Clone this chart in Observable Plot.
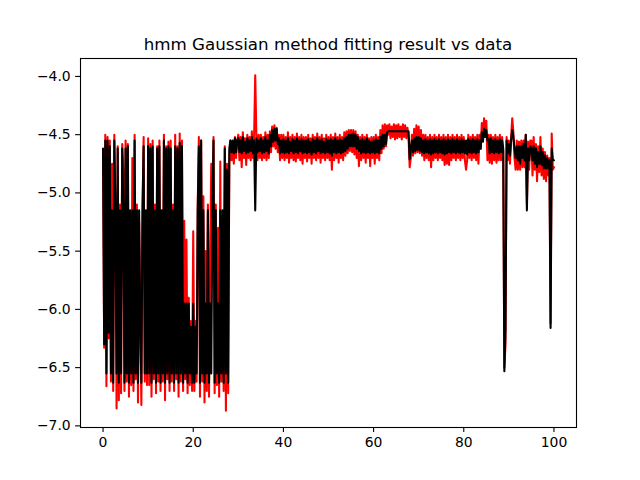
<!DOCTYPE html>
<html><head><meta charset="utf-8">
<script src="https://cdn.jsdelivr.net/npm/d3@7"></script>
<script src="https://cdn.jsdelivr.net/npm/@observablehq/plot@0.6"></script>
<style>
body{margin:0;background:#fff;font-family:"DejaVu Sans",sans-serif;}
#title{height:56px;width:640px;position:relative}
#title span{position:absolute;left:328px;transform:translateX(-50%);top:34px;font-size:16.7px;white-space:nowrap;color:#000}
</style></head><body>
<div id="title"><span>hmm Gaussian method fitting result vs data</span></div>
<div id="chart"></div>
<script>
const titleText = "hmm Gaussian method fitting result vs data";
const tStart = 0, tStep = 0.25;
const xTicks = [0, 20, 40, 60, 80, 100];
const yTicks = [-7.0, -6.5, -6.0, -5.5, -5.0, -4.5, -4.0];
const dataRed = [
-4.68,-6.33,-4.5,-6.66,-4.52,-6.25,-4.55,-6.62,-4.75,-6.7,-4.5,-5.2,-6.85,-4.6,-6.78,-5.1,-6.72,-4.58,-4.8,-6.7,
-4.55,-6.62,-4.58,-6.75,-5.2,-6.65,-4.7,-6.7,-4.5,-6.6,-5.1,-6.8,-5.25,-6.05,-6.82,-5.2,-4.52,-6.62,-5.2,-6.65,
-4.53,-6.65,-4.58,-6.75,-4.55,-6.6,-5.1,-6.72,-4.6,-6.62,-4.55,-6.7,-5.2,-6.62,-4.5,-6.78,-4.6,-6.6,-4.56,-6.7,
-4.55,-6.62,-5.1,-6.7,-4.5,-6.6,-4.6,-6.75,-4.49,-6.62,-4.55,-6.7,-5.24,-6.6,-5.4,-6.72,-5.9,-6.65,-6.1,-6.7,
-5.33,-6.7,-6.1,-6.62,-5.1,-4.52,-6.75,-4.55,-6.62,-5.03,-6.8,-5.5,-6.7,-5.1,-6.75,-5.6,-4.75,-5.2,-4.52,-6.72,
-5.1,-6.65,-5.3,-6.75,-4.73,-6.62,-5.2,-6.7,-4.6,-6.87,-4.75,-6.72,-4.75,-4.55,-4.72,-4.58,-4.75,-4.52,-4.7,-4.55,
-4.5,-4.72,-4.52,-4.78,-4.48,-4.7,-4.53,-4.76,-4.5,-4.7,-4.52,-4.72,-4.47,-4.7,-4.52,-3.99,-4.5,-4.72,-4.5,-4.7,
-4.5,-4.72,-4.52,-4.7,-4.48,-4.72,-4.5,-4.7,-4.47,-4.65,-4.43,-4.6,-4.42,-4.62,-4.44,-4.65,-4.5,-4.72,-4.5,-4.7,
-4.5,-4.72,-4.52,-4.7,-4.48,-4.74,-4.52,-4.7,-4.5,-4.72,-4.52,-4.73,-4.49,-4.7,-4.52,-4.72,-4.5,-4.75,-4.52,-4.7,
-4.52,-4.73,-4.5,-4.7,-4.53,-4.75,-4.5,-4.7,-4.52,-4.72,-4.49,-4.7,-4.52,-4.74,-4.5,-4.7,-4.53,-4.72,-4.5,-4.7,
-4.52,-4.72,-4.5,-4.8,-4.52,-4.72,-4.49,-4.7,-4.52,-4.74,-4.5,-4.7,-4.52,-4.72,-4.48,-4.68,-4.47,-4.66,-4.46,-4.64,
-4.46,-4.65,-4.46,-4.67,-4.47,-4.7,-4.5,-4.77,-4.52,-4.72,-4.5,-4.7,-4.52,-4.74,-4.5,-4.7,-4.53,-4.77,-4.52,-4.7,
-4.52,-4.75,-4.5,-4.7,-4.52,-4.72,-4.46,-4.66,-4.42,-4.62,-4.41,-4.6,-4.42,-4.5,-4.41,-4.53,-4.43,-4.52,-4.41,-4.54,
-4.42,-4.53,-4.41,-4.52,-4.43,-4.54,-4.41,-4.52,-4.42,-4.53,-4.44,-4.52,-4.78,-4.7,-4.5,-4.68,-4.45,-4.66,-4.42,-4.65,
-4.43,-4.66,-4.46,-4.68,-4.5,-4.72,-4.5,-4.7,-4.52,-4.72,-4.5,-4.78,-4.52,-4.72,-4.5,-4.7,-4.52,-4.72,-4.5,-4.7,
-4.52,-4.72,-4.5,-4.76,-4.52,-4.75,-4.5,-4.76,-4.52,-4.72,-4.5,-4.7,-4.52,-4.72,-4.5,-4.7,-4.52,-4.72,-4.5,-4.7,
-4.52,-4.72,-4.8,-4.72,-4.5,-4.7,-4.52,-4.72,-4.5,-4.7,-4.52,-4.72,-4.5,-4.75,-4.5,-4.62,-4.4,-4.5,-4.36,-4.48,
-4.38,-4.72,-4.5,-4.74,-4.5,-4.75,-4.52,-4.72,-4.5,-4.74,-4.52,-4.72,-4.5,-4.72,-4.52,-4.65,-6.5,-6.3,-4.52,-4.72,
-4.55,-4.75,-4.52,-4.36,-4.48,-4.7,-4.8,-4.55,-4.8,-4.56,-4.8,-4.55,-4.78,-4.55,-4.78,-4.5,-5.1,-4.56,-4.8,-4.55,
-4.55,-4.85,-4.52,-4.8,-4.58,-4.9,-4.6,-4.82,-4.52,-4.85,-4.62,-4.88,-4.65,-4.9,-4.68,-4.85,-4.7,-6.12,-4.49,-4.8,
-4.78
];
const fitBlack = [
-4.62,-6.3,-4.55,-6.55,-4.55,-6.2,-4.6,-6.55,-5.15,-6.63,-4.55,-5.15,-6.55,-4.62,-6.63,-5.15,-6.55,-4.62,-5.15,-6.63,
-4.62,-6.55,-4.6,-6.63,-5.15,-6.55,-5.15,-6.63,-4.55,-6.55,-5.15,-6.63,-5.15,-6.15,-6.63,-5.15,-4.6,-6.55,-5.15,-6.55,
-4.6,-6.55,-4.62,-6.63,-4.6,-6.55,-5.15,-6.63,-4.62,-6.55,-4.6,-6.63,-5.15,-6.55,-4.55,-6.63,-4.62,-6.55,-4.6,-6.63,
-4.62,-6.55,-5.15,-6.63,-4.6,-6.55,-4.62,-6.63,-4.57,-6.55,-4.6,-6.63,-5.95,-6.55,-5.95,-6.63,-5.95,-6.55,-6.15,-6.63,
-5.95,-6.63,-6.15,-6.55,-5.15,-4.6,-6.63,-4.55,-6.55,-5.15,-6.63,-5.95,-6.55,-5.15,-6.63,-5.95,-6.55,-5.15,-4.55,-6.63,
-5.15,-6.55,-5.95,-6.63,-5.15,-6.55,-5.15,-6.63,-4.62,-6.55,-4.8,-6.63,-4.62,-4.55,-4.65,-4.55,-4.66,-4.53,-4.65,-4.55,
-4.53,-4.65,-4.55,-4.66,-4.52,-4.64,-4.56,-4.66,-4.53,-4.65,-4.55,-4.64,-4.52,-4.66,-4.55,-5.15,-4.53,-4.65,-4.55,-4.64,
-4.53,-4.66,-4.55,-4.65,-4.52,-4.64,-4.55,-4.66,-4.5,-4.6,-4.46,-4.56,-4.45,-4.55,-4.45,-4.58,-4.53,-4.66,-4.55,-4.65,
-4.54,-4.66,-4.55,-4.65,-4.53,-4.66,-4.56,-4.64,-4.54,-4.66,-4.55,-4.65,-4.53,-4.66,-4.55,-4.64,-4.54,-4.66,-4.55,-4.65,
-4.55,-4.66,-4.54,-4.65,-4.56,-4.67,-4.54,-4.65,-4.55,-4.66,-4.53,-4.64,-4.55,-4.66,-4.54,-4.65,-4.56,-4.66,-4.54,-4.65,
-4.55,-4.66,-4.54,-4.68,-4.55,-4.65,-4.53,-4.66,-4.55,-4.65,-4.54,-4.66,-4.55,-4.65,-4.53,-4.64,-4.52,-4.62,-4.5,-4.6,
-4.5,-4.6,-4.49,-4.6,-4.5,-4.62,-4.52,-4.64,-4.55,-4.66,-4.54,-4.65,-4.55,-4.66,-4.53,-4.65,-4.55,-4.66,-4.56,-4.65,
-4.55,-4.66,-4.54,-4.65,-4.55,-4.66,-4.52,-4.62,-4.5,-4.6,-4.5,-4.58,-4.48,-4.47,-4.47,-4.47,-4.47,-4.47,-4.47,-4.47,
-4.47,-4.47,-4.47,-4.47,-4.47,-4.47,-4.47,-4.47,-4.47,-4.47,-4.47,-4.47,-4.71,-4.62,-4.55,-4.65,-4.53,-4.64,-4.52,-4.63,
-4.52,-4.64,-4.53,-4.65,-4.55,-4.66,-4.54,-4.65,-4.55,-4.66,-4.54,-4.67,-4.55,-4.66,-4.54,-4.65,-4.55,-4.66,-4.54,-4.65,
-4.55,-4.66,-4.54,-4.67,-4.55,-4.66,-4.54,-4.65,-4.55,-4.66,-4.54,-4.65,-4.55,-4.66,-4.54,-4.65,-4.55,-4.66,-4.54,-4.65,
-4.55,-4.66,-4.55,-4.67,-4.54,-4.65,-4.55,-4.66,-4.54,-4.65,-4.55,-4.66,-4.54,-4.65,-4.55,-4.62,-4.48,-4.56,-4.45,-4.52,
-4.46,-4.55,-4.54,-4.66,-4.53,-4.65,-4.55,-4.66,-4.54,-4.65,-4.55,-4.66,-4.54,-4.65,-4.55,-4.62,-6.53,-6.16,-4.55,-4.66,
-4.58,-4.68,-4.55,-4.46,-4.52,-4.62,-4.7,-4.6,-4.72,-4.6,-4.75,-4.6,-4.7,-4.58,-4.72,-4.5,-5.15,-4.62,-4.72,-4.6,
-4.62,-4.72,-4.6,-4.75,-4.62,-4.78,-4.65,-4.75,-4.6,-4.76,-4.65,-4.79,-4.68,-4.79,-4.7,-4.79,-4.72,-6.16,-4.62,-4.72,
-4.72
];

const redRows = dataRed.map((v, i) => ({t: tStart + i * tStep, v}));
const blackRows = fitBlack.map((v, i) => ({t: tStart + i * tStep, v}));

const chart = Plot.plot({
  width: 640, height: 424,
  marginLeft: 80, marginRight: 64, marginTop: 2, marginBottom: 53,
  style: {fontFamily: "DejaVu Sans", fontSize: "13.9px", color: "black", background: "white", overflow: "visible"},
  x: {domain: [-5, 105], label: null},
  y: {domain: [-7.014, -3.846], label: null},
  marks: [
    Plot.line(redRows, {x: "t", y: "v", stroke: "red", strokeWidth: 2.08}),
    Plot.line(blackRows, {x: "t", y: "v", stroke: "black", strokeWidth: 2.08}),
    Plot.frame({stroke: "black", strokeWidth: 1.1}),
    Plot.axisX({ticks: xTicks, tickFormat: "d", tickSize: 4.9, tickPadding: 4.9, color: "black", strokeWidth: 1.1, label: null}),
    Plot.axisY({ticks: yTicks, tickFormat: ".1f", tickSize: 4.9, tickPadding: 4.9, color: "black", strokeWidth: 1.1, label: null})
  ]
});
document.getElementById("chart").appendChild(chart);
</script>
</body></html>
